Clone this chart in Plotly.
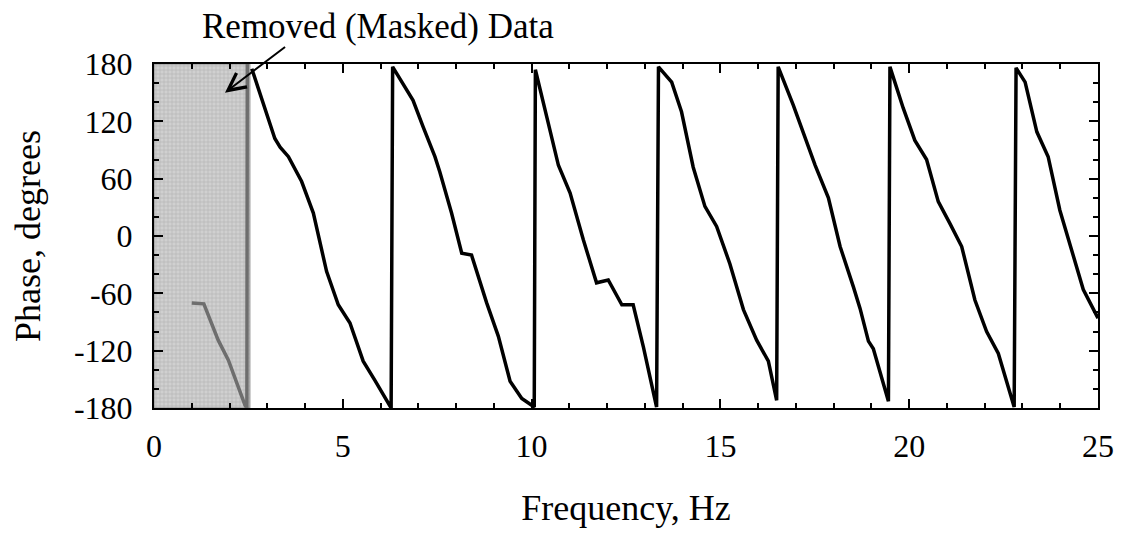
import plotly.graph_objects as go

# phase response (visible part)
freq = [2.59, 3.20, 3.34, 3.56, 3.91, 4.22, 4.57, 4.88, 5.19, 5.54, 5.85, 6.28,
        6.32, 6.40, 6.86, 7.13, 7.44, 7.57, 7.88, 8.15, 8.41, 8.81, 9.12, 9.43, 9.74, 10.07,
        10.10, 10.40, 10.71, 11.02, 11.37, 11.72, 12.03, 12.39, 12.69, 12.96, 13.31,
        13.36, 13.71, 13.97, 14.28, 14.59, 14.90, 15.25, 15.61, 15.96, 16.27, 16.49,
        16.53, 16.93, 17.24, 17.51, 17.86, 18.17, 18.52, 18.70, 18.92, 19.05, 19.45,
        19.49, 19.84, 20.15, 20.46, 20.77, 21.08, 21.39, 21.74, 22.05, 22.36, 22.78,
        22.83, 23.07, 23.38, 23.68, 23.99, 24.30, 24.61, 25.0]
phase = [175, 102, 93, 83, 57, 24, -37, -72, -91, -131, -151, -180,
         177, 172, 142, 114, 83, 67, 24, -18, -20, -70, -105, -152, -170, -179,
         174, 125, 74, 45, -4, -49, -46, -72, -72, -116, -179,
         177, 161, 130, 72, 31, 10, -29, -77, -109, -131, -172,
         177, 137, 104, 74, 40, -11, -53, -76, -110, -118, -173,
         177, 134, 100, 80, 36, 13, -11, -67, -100, -123, -179,
         176, 161, 109, 83, 27, -15, -56, -86]

# masked (removed) low-frequency part
freq_masked = [1.0, 1.32, 1.70, 1.97, 2.41, 2.46, 2.47]
phase_masked = [-70, -71, -109, -130, -177, -180, 180]

mask_x = [0, 2.54, 2.54, 0, 0]
mask_y = [-180, -180, 180, 180, -180]

x_ticks = [0, 5, 10, 15, 20, 25]
y_ticks = [-180, -120, -60, 0, 60, 120, 180]
y_labels = ['-180', '-120', '-60', '0', '60', '120', '180']

font = "Liberation Serif, Times New Roman, serif"

fig = go.Figure()
fig.add_trace(go.Scatter(
    x=mask_x, y=mask_y, fill='toself', mode='lines',
    line=dict(color='#8c8c8c', width=1),
    fillcolor='#cfcfcf',
    fillpattern=dict(shape='+', size=4, solidity=0.3, fgcolor='#999999', bgcolor='#d0d0d0'),
    hoverinfo='skip'
))
fig.add_trace(go.Scatter(
    x=freq_masked, y=phase_masked, mode='lines',
    line=dict(color='#6e6e6e', width=3.5)
))
fig.add_trace(go.Scatter(
    x=freq, y=phase, mode='lines',
    line=dict(color='black', width=3.5)
))

fig.add_annotation(
    x=1.88, y=150, ax=3.51, ay=199, xref='x', yref='y', axref='x', ayref='y',
    text='', showarrow=True, arrowhead=5, arrowsize=1.7, arrowwidth=2, arrowcolor='black'
)
fig.add_annotation(
    x=0.237, y=1.108, xref='paper', yref='paper', text='Removed (Masked) Data',
    showarrow=False, font=dict(size=35, family=font, color='black'),
    xanchor='center', yanchor='middle'
)

fig.update_layout(
    width=1109, height=522,
    template='plotly_white',
    plot_bgcolor='white', paper_bgcolor='white',
    showlegend=False,
    margin=dict(l=146, r=19, t=56, b=122),
    font=dict(family=font, size=32, color='black'),
)
fig.update_xaxes(
    range=[0, 25], tickvals=x_ticks, showgrid=False, zeroline=False,
    showline=True, linecolor='black', linewidth=2, mirror='ticks',
    ticks='inside', ticklen=9, tickwidth=1.5, tickcolor='black',
    minor=dict(dtick=1, ticks='inside', ticklen=5, tickwidth=1.5, tickcolor='black'),
    ticklabelstandoff=9, automargin=False,
    title=dict(text='Frequency, Hz', font=dict(size=36), standoff=31)
)
fig.update_yaxes(
    range=[-180, 180], tickvals=y_ticks, ticktext=y_labels, showgrid=False, zeroline=False,
    showline=True, linecolor='black', linewidth=2, mirror='ticks',
    ticks='inside', ticklen=9, tickwidth=1.5, tickcolor='black',
    minor=dict(dtick=20, ticks='inside', ticklen=5, tickwidth=1.5, tickcolor='black'),
    ticklabelstandoff=13, automargin=False,
    title=dict(text='Phase, degrees', font=dict(size=36), standoff=34)
)

fig.write_html("out.html")
